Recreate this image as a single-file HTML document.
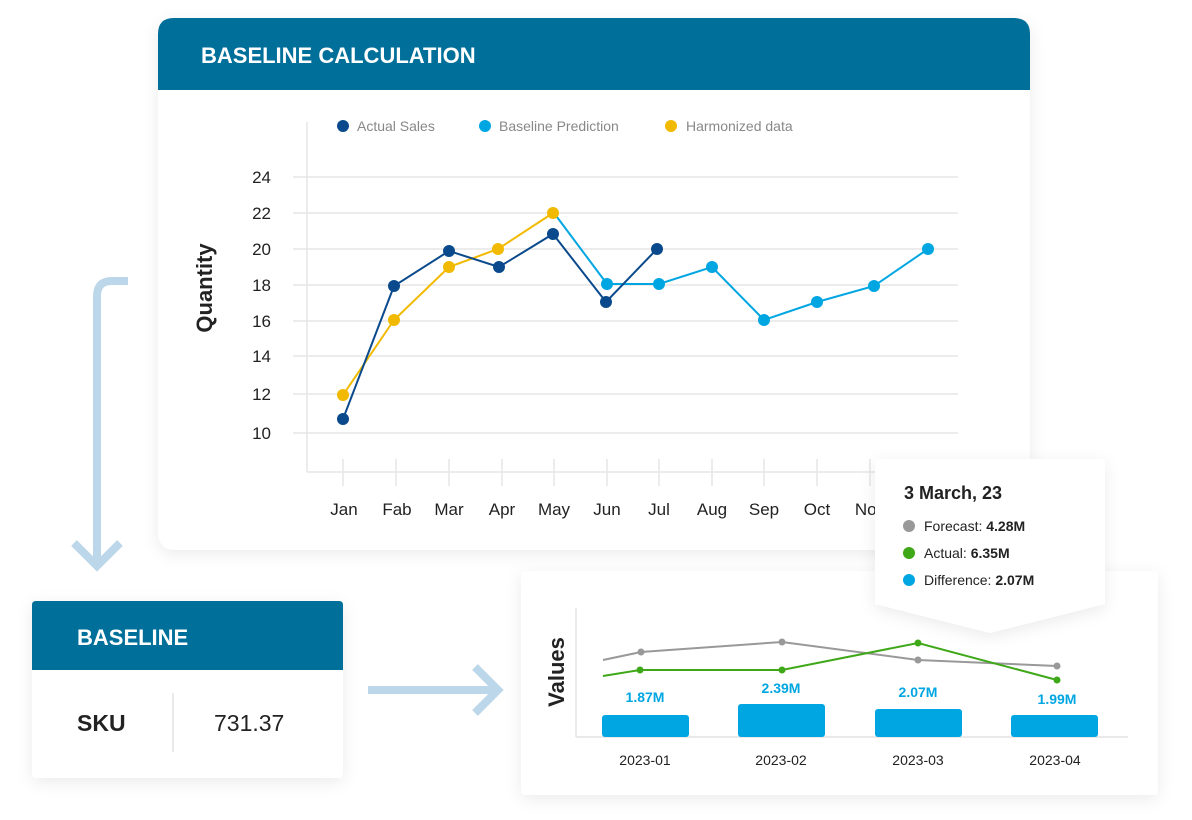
<!DOCTYPE html>
<html><head><meta charset="utf-8"><style>
html,body{margin:0;padding:0;background:#fff;}
svg{display:block;font-family:"Liberation Sans",sans-serif;}
</style></head><body>
<svg width="1192" height="820" viewBox="0 0 1192 820" xmlns="http://www.w3.org/2000/svg">
<defs>
<filter id="sh" x="-10%" y="-10%" width="120%" height="130%"><feDropShadow dx="0" dy="4" stdDeviation="8" flood-color="#000" flood-opacity="0.08"/></filter>
</defs>
<rect width="1192" height="820" fill="#fff"/>
<!-- arrows -->
<path d="M128 281 H112 Q97 281 97 296 V565" fill="none" stroke="#bcd7ea" stroke-width="8"/>
<path d="M74 543 L97 566 L120 543" fill="none" stroke="#bcd7ea" stroke-width="8"/>
<path d="M368 690 H495" fill="none" stroke="#bcd7ea" stroke-width="8"/>
<path d="M475 667 L498 690 L475 713" fill="none" stroke="#bcd7ea" stroke-width="8"/>
<!-- main card -->
<g filter="url(#sh)">
<rect x="158" y="18" width="872" height="532" rx="16" fill="#fff"/>
</g>
<path d="M174 18 H1014 Q1030 18 1030 34 V90 H158 V34 Q158 18 174 18Z" fill="#006f99"/>
<text x="201" y="63" fill="#fff" font-size="22" font-weight="bold">BASELINE CALCULATION</text>
<!-- legend -->
<circle cx="343" cy="126" r="6" fill="#0a4a8c"/><text x="357" y="131" font-size="14" fill="#888">Actual Sales</text>
<circle cx="485" cy="126" r="6" fill="#00a6e2"/><text x="499" y="131" font-size="14" fill="#888">Baseline Prediction</text>
<circle cx="671" cy="126" r="6" fill="#f1ba00"/><text x="686" y="131" font-size="14" fill="#888">Harmonized data</text>
<!-- grid -->
<g stroke="#e6e6e6" stroke-width="1.5">
<line x1="293" y1="177" x2="958" y2="177"/><line x1="293" y1="213" x2="958" y2="213"/>
<line x1="293" y1="249" x2="958" y2="249"/><line x1="293" y1="285" x2="958" y2="285"/>
<line x1="293" y1="321" x2="958" y2="321"/><line x1="293" y1="356" x2="958" y2="356"/>
<line x1="293" y1="394" x2="958" y2="394"/><line x1="293" y1="433" x2="958" y2="433"/>
<line x1="307" y1="122" x2="307" y2="472"/><line x1="307" y1="472" x2="958" y2="472"/>
<line x1="343" y1="459" x2="343" y2="486"/><line x1="396" y1="459" x2="396" y2="486"/>
<line x1="449" y1="459" x2="449" y2="486"/><line x1="502" y1="459" x2="502" y2="486"/>
<line x1="554" y1="459" x2="554" y2="486"/><line x1="607" y1="459" x2="607" y2="486"/>
<line x1="659" y1="459" x2="659" y2="486"/><line x1="712" y1="459" x2="712" y2="486"/>
<line x1="764" y1="459" x2="764" y2="486"/><line x1="817" y1="459" x2="817" y2="486"/>
<line x1="870" y1="459" x2="870" y2="486"/><line x1="922" y1="459" x2="922" y2="486"/>
</g>
<g font-size="17" fill="#222" text-anchor="end">
<text x="271" y="183">24</text><text x="271" y="219">22</text><text x="271" y="255">20</text>
<text x="271" y="291">18</text><text x="271" y="327">16</text><text x="271" y="362">14</text>
<text x="271" y="400">12</text><text x="271" y="439">10</text>
</g>
<text transform="translate(212 288) rotate(-90)" font-size="22" font-weight="bold" fill="#222" text-anchor="middle">Quantity</text>
<g font-size="17" fill="#222" text-anchor="middle">
<text x="344" y="515">Jan</text><text x="397" y="515">Fab</text><text x="449" y="515">Mar</text>
<text x="502" y="515">Apr</text><text x="554" y="515">May</text><text x="607" y="515">Jun</text>
<text x="659" y="515">Jul</text><text x="712" y="515">Aug</text><text x="764" y="515">Sep</text>
<text x="817" y="515">Oct</text><text x="870" y="515">Nov</text>
</g>
<!-- series -->
<polyline points="554,213 607,284 659,284 712,267 764,320 817,302 874,286 928,249" fill="none" stroke="#00a6e2" stroke-width="2"/>
<g fill="#00a6e2"><circle cx="607" cy="284" r="6"/><circle cx="659" cy="284" r="6"/><circle cx="712" cy="267" r="6"/><circle cx="764" cy="320" r="6"/><circle cx="817" cy="302" r="6"/><circle cx="874" cy="286" r="6"/><circle cx="928" cy="249" r="6"/></g>
<polyline points="343,395 394,320 449,267 498,249 553,213" fill="none" stroke="#f1ba00" stroke-width="2"/>
<polyline points="343,419 394,286 449,251 499,267 553,234 606,302 657,249" fill="none" stroke="#0a4a8c" stroke-width="2"/>
<g fill="#f1ba00"><circle cx="343" cy="395" r="6"/><circle cx="394" cy="320" r="6"/><circle cx="449" cy="267" r="6"/><circle cx="498" cy="249" r="6"/><circle cx="553" cy="213" r="6"/></g>
<g fill="#0a4a8c"><circle cx="343" cy="419" r="6"/><circle cx="394" cy="286" r="6"/><circle cx="449" cy="251" r="6"/><circle cx="499" cy="267" r="6"/><circle cx="553" cy="234" r="6"/><circle cx="606" cy="302" r="6"/><circle cx="657" cy="249" r="6"/></g>
<!-- baseline card -->
<g filter="url(#sh)"><rect x="32" y="601" width="311" height="177" rx="4" fill="#fff"/></g>
<path d="M36 601 H339 Q343 601 343 605 V670 H32 V605 Q32 601 36 601Z" fill="#006f99"/>
<text x="77" y="645" fill="#fff" font-size="22" font-weight="bold">BASELINE</text>
<line x1="173" y1="693" x2="173" y2="752" stroke="#e3e3e3" stroke-width="1.5"/>
<text x="77" y="731" font-size="23" font-weight="bold" fill="#222">SKU</text>
<text x="214" y="731" font-size="23" fill="#222">731.37</text>
<!-- bottom card -->
<g filter="url(#sh)"><rect x="521" y="571" width="637" height="224" rx="4" fill="#fff"/></g>
<line x1="576" y1="608" x2="576" y2="737" stroke="#e3e3e3" stroke-width="1.5"/>
<line x1="576" y1="737" x2="1128" y2="737" stroke="#e3e3e3" stroke-width="1.5"/>
<text transform="translate(564 672) rotate(-90)" font-size="22" font-weight="bold" fill="#222" text-anchor="middle">Values</text>
<g fill="#00a6e2">
<rect x="602" y="715" width="87" height="22" rx="3"/><rect x="738" y="704" width="87" height="33" rx="3"/>
<rect x="875" y="709" width="87" height="28" rx="3"/><rect x="1011" y="715" width="87" height="22" rx="3"/>
</g>
<g font-size="14" font-weight="bold" fill="#00a6e2" text-anchor="middle">
<text x="645" y="702">1.87M</text><text x="781" y="693">2.39M</text><text x="918" y="697">2.07M</text><text x="1057" y="704">1.99M</text>
</g>
<polyline points="603,660 641,652 782,642 918,660 1057,666" fill="none" stroke="#999" stroke-width="2"/>
<g fill="#999"><circle cx="641" cy="652" r="3.5"/><circle cx="782" cy="642" r="3.5"/><circle cx="918" cy="660" r="3.5"/><circle cx="1057" cy="666" r="3.5"/></g>
<polyline points="603,676 640,670 782,670 918,643 1057,680" fill="none" stroke="#3fa818" stroke-width="2"/>
<g fill="#3fa818"><circle cx="640" cy="670" r="3.5"/><circle cx="782" cy="670" r="3.5"/><circle cx="918" cy="643" r="3.5"/><circle cx="1057" cy="680" r="3.5"/></g>
<g font-size="14" fill="#222" text-anchor="middle">
<text x="645" y="765">2023-01</text><text x="781" y="765">2023-02</text><text x="918" y="765">2023-03</text><text x="1055" y="765">2023-04</text>
</g>
<!-- tooltip -->
<g filter="url(#sh)"><path d="M879 459 H1101 Q1105 459 1105 463 V604 L990 633 L875 604 V463 Q875 459 879 459Z" fill="#fff"/></g>
<text x="904" y="499" font-size="18" font-weight="bold" fill="#222">3 March, 23</text>
<circle cx="909" cy="526" r="6" fill="#999"/><text x="924" y="531" font-size="14" fill="#222">Forecast: <tspan font-weight="bold">4.28M</tspan></text>
<circle cx="909" cy="553" r="6" fill="#3fa818"/><text x="924" y="558" font-size="14" fill="#222">Actual: <tspan font-weight="bold">6.35M</tspan></text>
<circle cx="909" cy="580" r="6" fill="#00a6e2"/><text x="924" y="585" font-size="14" fill="#222">Difference: <tspan font-weight="bold">2.07M</tspan></text>
</svg>
</body></html>
